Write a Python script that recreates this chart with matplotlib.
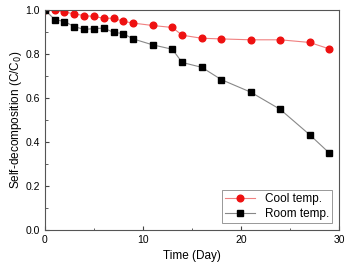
"""Self-decomposition over time at two storage temperatures."""
import matplotlib
matplotlib.use("Agg")
import matplotlib.pyplot as plt
from matplotlib.ticker import MultipleLocator

days = [0, 1, 2, 3, 4, 5, 6, 7, 8, 9, 11, 13, 14, 16, 18, 21, 24, 27, 29]
cool = [1.0, 0.998, 0.99, 0.982, 0.974, 0.97, 0.962, 0.962, 0.948, 0.94,
        0.929, 0.92, 0.885, 0.871, 0.868, 0.864, 0.864, 0.852, 0.823]
room = [1.0, 0.956, 0.947, 0.924, 0.911, 0.915, 0.917, 0.898, 0.892, 0.868,
        0.841, 0.821, 0.761, 0.739, 0.683, 0.626, 0.548, 0.433, 0.35]

plt.rcParams["font.family"] = ["Liberation Sans", "DejaVu Sans"]

fig = plt.figure(figsize=(3.48, 2.67), dpi=100)
ax = fig.add_axes([0.129, 0.139, 0.845, 0.824])

ax.plot(days, cool, color="#f08080", lw=0.8, marker="o", ms=4.8,
        mfc="#ee1111", mec="#ee1111", label="Cool temp.")
ax.plot(days, room, color="#888888", lw=0.8, marker="s", ms=4.3,
        mfc="black", mec="black", label="Room temp.")

ax.set_xlim(0, 30)
ax.set_ylim(0, 1.0)
ax.xaxis.set_major_locator(MultipleLocator(10))
ax.xaxis.set_minor_locator(MultipleLocator(5))
ax.yaxis.set_major_locator(MultipleLocator(0.2))
ax.yaxis.set_minor_locator(MultipleLocator(0.1))
ax.yaxis.set_major_formatter(plt.FormatStrFormatter("%.1f"))
ax.tick_params(which="both", direction="in", labelsize=7.5, color="#444444")
ax.tick_params(which="major", length=3)
ax.tick_params(which="minor", length=1.8)
for s in ax.spines.values():
    s.set_color("#555555")
    s.set_linewidth(0.8)

ax.set_xlabel("Time (Day)", fontsize=8.5, labelpad=4)
ax.set_ylabel("Self-decomposition (C/C$_0$)", fontsize=8.5, labelpad=1)

leg = ax.legend(loc="lower right", fontsize=8.5, fancybox=False,
                framealpha=1, edgecolor="#888888", handlelength=2.6,
                borderpad=0.25, labelspacing=0.25, handletextpad=0.8,
                borderaxespad=0.6)
leg.get_frame().set_linewidth(0.6)

fig.savefig("out.png", dpi=100)
